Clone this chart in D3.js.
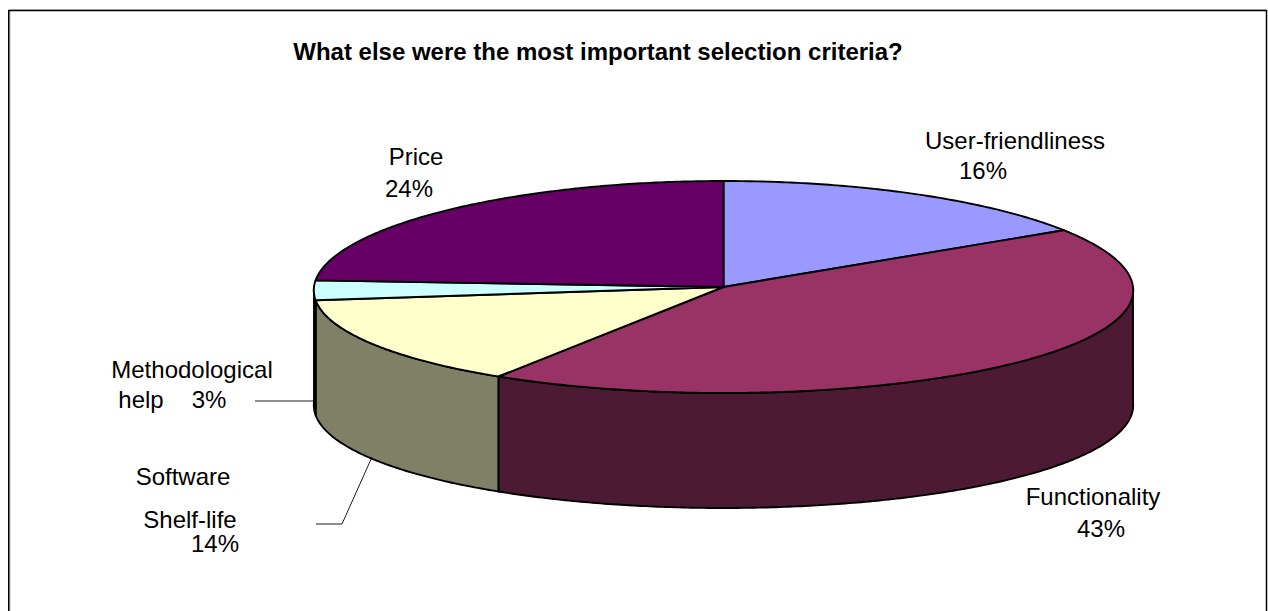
<!DOCTYPE html>
<html>
<head>
<meta charset="utf-8">
<style>
  html, body { margin: 0; padding: 0; background: #fff; overflow: hidden; }
  svg { display: block; }
  text { font-family: "Liberation Sans", Arial, sans-serif; fill: #000; }
</style>
<script src="https://cdn.jsdelivr.net/npm/d3@7/dist/d3.min.js"></script>
</head>
<body>
<svg id="chart" width="1268" height="611"></svg>
<script>
const titleText = "What else were the most important selection criteria?";
const categories = ["User-friendliness", "Functionality", "Software Shelf-life", "Methodological help", "Price"];
const shares = [16, 43, 14, 3, 24];
const topColors = ["#9999ff", "#993366", "#ffffcc", "#ccffff", "#660066"];
const sideColors = ["#4c4c80", "#4d1a33", "#808066", "#668080", "#330033"];

const W = 1268, H = 611;
const cx = 723.5, cy = 287, rx = 409.5, ry = 106, depth = 115;
const lean = 0.03; // far side of the disc is drawn slightly narrower than the near side

const svg = d3.select("#chart");

// Chart frame: open at the bottom, running off the page edge, with a soft grey inner edge
const frame = d3.line();
svg.append("path").attr("d", frame([[10, H], [10, 9.5]]))
  .attr("fill", "none").attr("stroke", "#bbb").attr("stroke-width", 1);
svg.append("path").attr("d", frame([[10, 9.5], [W - 2, 9.5]]))
  .attr("fill", "none").attr("stroke", "#ccc").attr("stroke-width", 1);
svg.append("path").attr("d", frame([[8.75, H], [8.75, 10.5], [1266.5, 10.5], [1266.5, H]]))
  .attr("fill", "none").attr("stroke", "#000").attr("stroke-width", 1.5);

svg.append("text").attr("x", 598).attr("y", 60).attr("text-anchor", "middle")
  .attr("font-size", "24px").attr("font-weight", "bold").text(titleText);

const arcs = d3.pie().sort(null).value(d => d)(shares);

// Angle is measured clockwise from twelve o'clock on the flattened disc.
const px = t => cx + rx * Math.sin(t) / (1 + lean * Math.cos(t));
const py = t => cy - ry * Math.cos(t);

function ellipseRun(p, a, b, dy) {
  const steps = Math.max(2, Math.ceil(Math.abs(b - a) / 0.01));
  for (let i = 1; i <= steps; i++) {
    const t = a + (b - a) * i / steps;
    p.lineTo(px(t), py(t) + dy);
  }
}

function wedgePath(a) {
  const p = d3.path();
  p.moveTo(cx, cy);
  p.lineTo(px(a.startAngle), py(a.startAngle));
  ellipseRun(p, a.startAngle, a.endAngle, 0);
  p.closePath();
  return p.toString();
}

// Only the near half of the rim (90deg to 270deg) shows a wall.
function wallPath(a) {
  const s = Math.max(a.startAngle, Math.PI / 2);
  const e = Math.min(a.endAngle, Math.PI * 1.5);
  if (e <= s) return null;
  const p = d3.path();
  p.moveTo(px(s), py(s));
  ellipseRun(p, s, e, 0);
  p.lineTo(px(e), py(e) + depth);
  ellipseRun(p, e, s, depth);
  p.closePath();
  return p.toString();
}

const lineStyle = sel => sel.attr("stroke", "#000").attr("stroke-width", 1.9).attr("stroke-linejoin", "round");

svg.append("g").selectAll("path")
  .data(arcs.filter(wallPath))
  .join("path")
  .attr("d", wallPath)
  .attr("fill", d => sideColors[d.index])
  .call(lineStyle);

svg.append("g").selectAll("path")
  .data(arcs)
  .join("path")
  .attr("d", wedgePath)
  .attr("fill", d => topColors[d.index])
  .call(lineStyle);

// Leader lines
const leader = d3.line();
const leaders = [
  [[255, 401], [315, 401]],
  [[316, 524], [342, 524], [372, 457]]
];
svg.append("g").selectAll("path").data(leaders).join("path")
  .attr("d", leader).attr("fill", "none").attr("stroke", "#000").attr("stroke-width", 0.9);

// Data labels, one text per visual line
const pct = i => shares[i] + "%";
const labels = [
  ["User-friendliness", 1015, 149], [pct(0), 983, 179],
  ["Functionality", 1093, 505], [pct(1), 1101, 537],
  ["Software", 183, 485], ["Shelf-life", 190, 528], [pct(2), 215, 552],
  ["Methodological", 192, 378], ["help", 141, 408], [pct(3), 209, 408],
  ["Price", 416, 165], [pct(4), 409, 197]
];
svg.append("g").selectAll("text").data(labels).join("text")
  .attr("x", d => d[1]).attr("y", d => d[2])
  .attr("text-anchor", "middle").attr("font-size", "24px")
  .text(d => d[0]);
</script>
</body>
</html>
